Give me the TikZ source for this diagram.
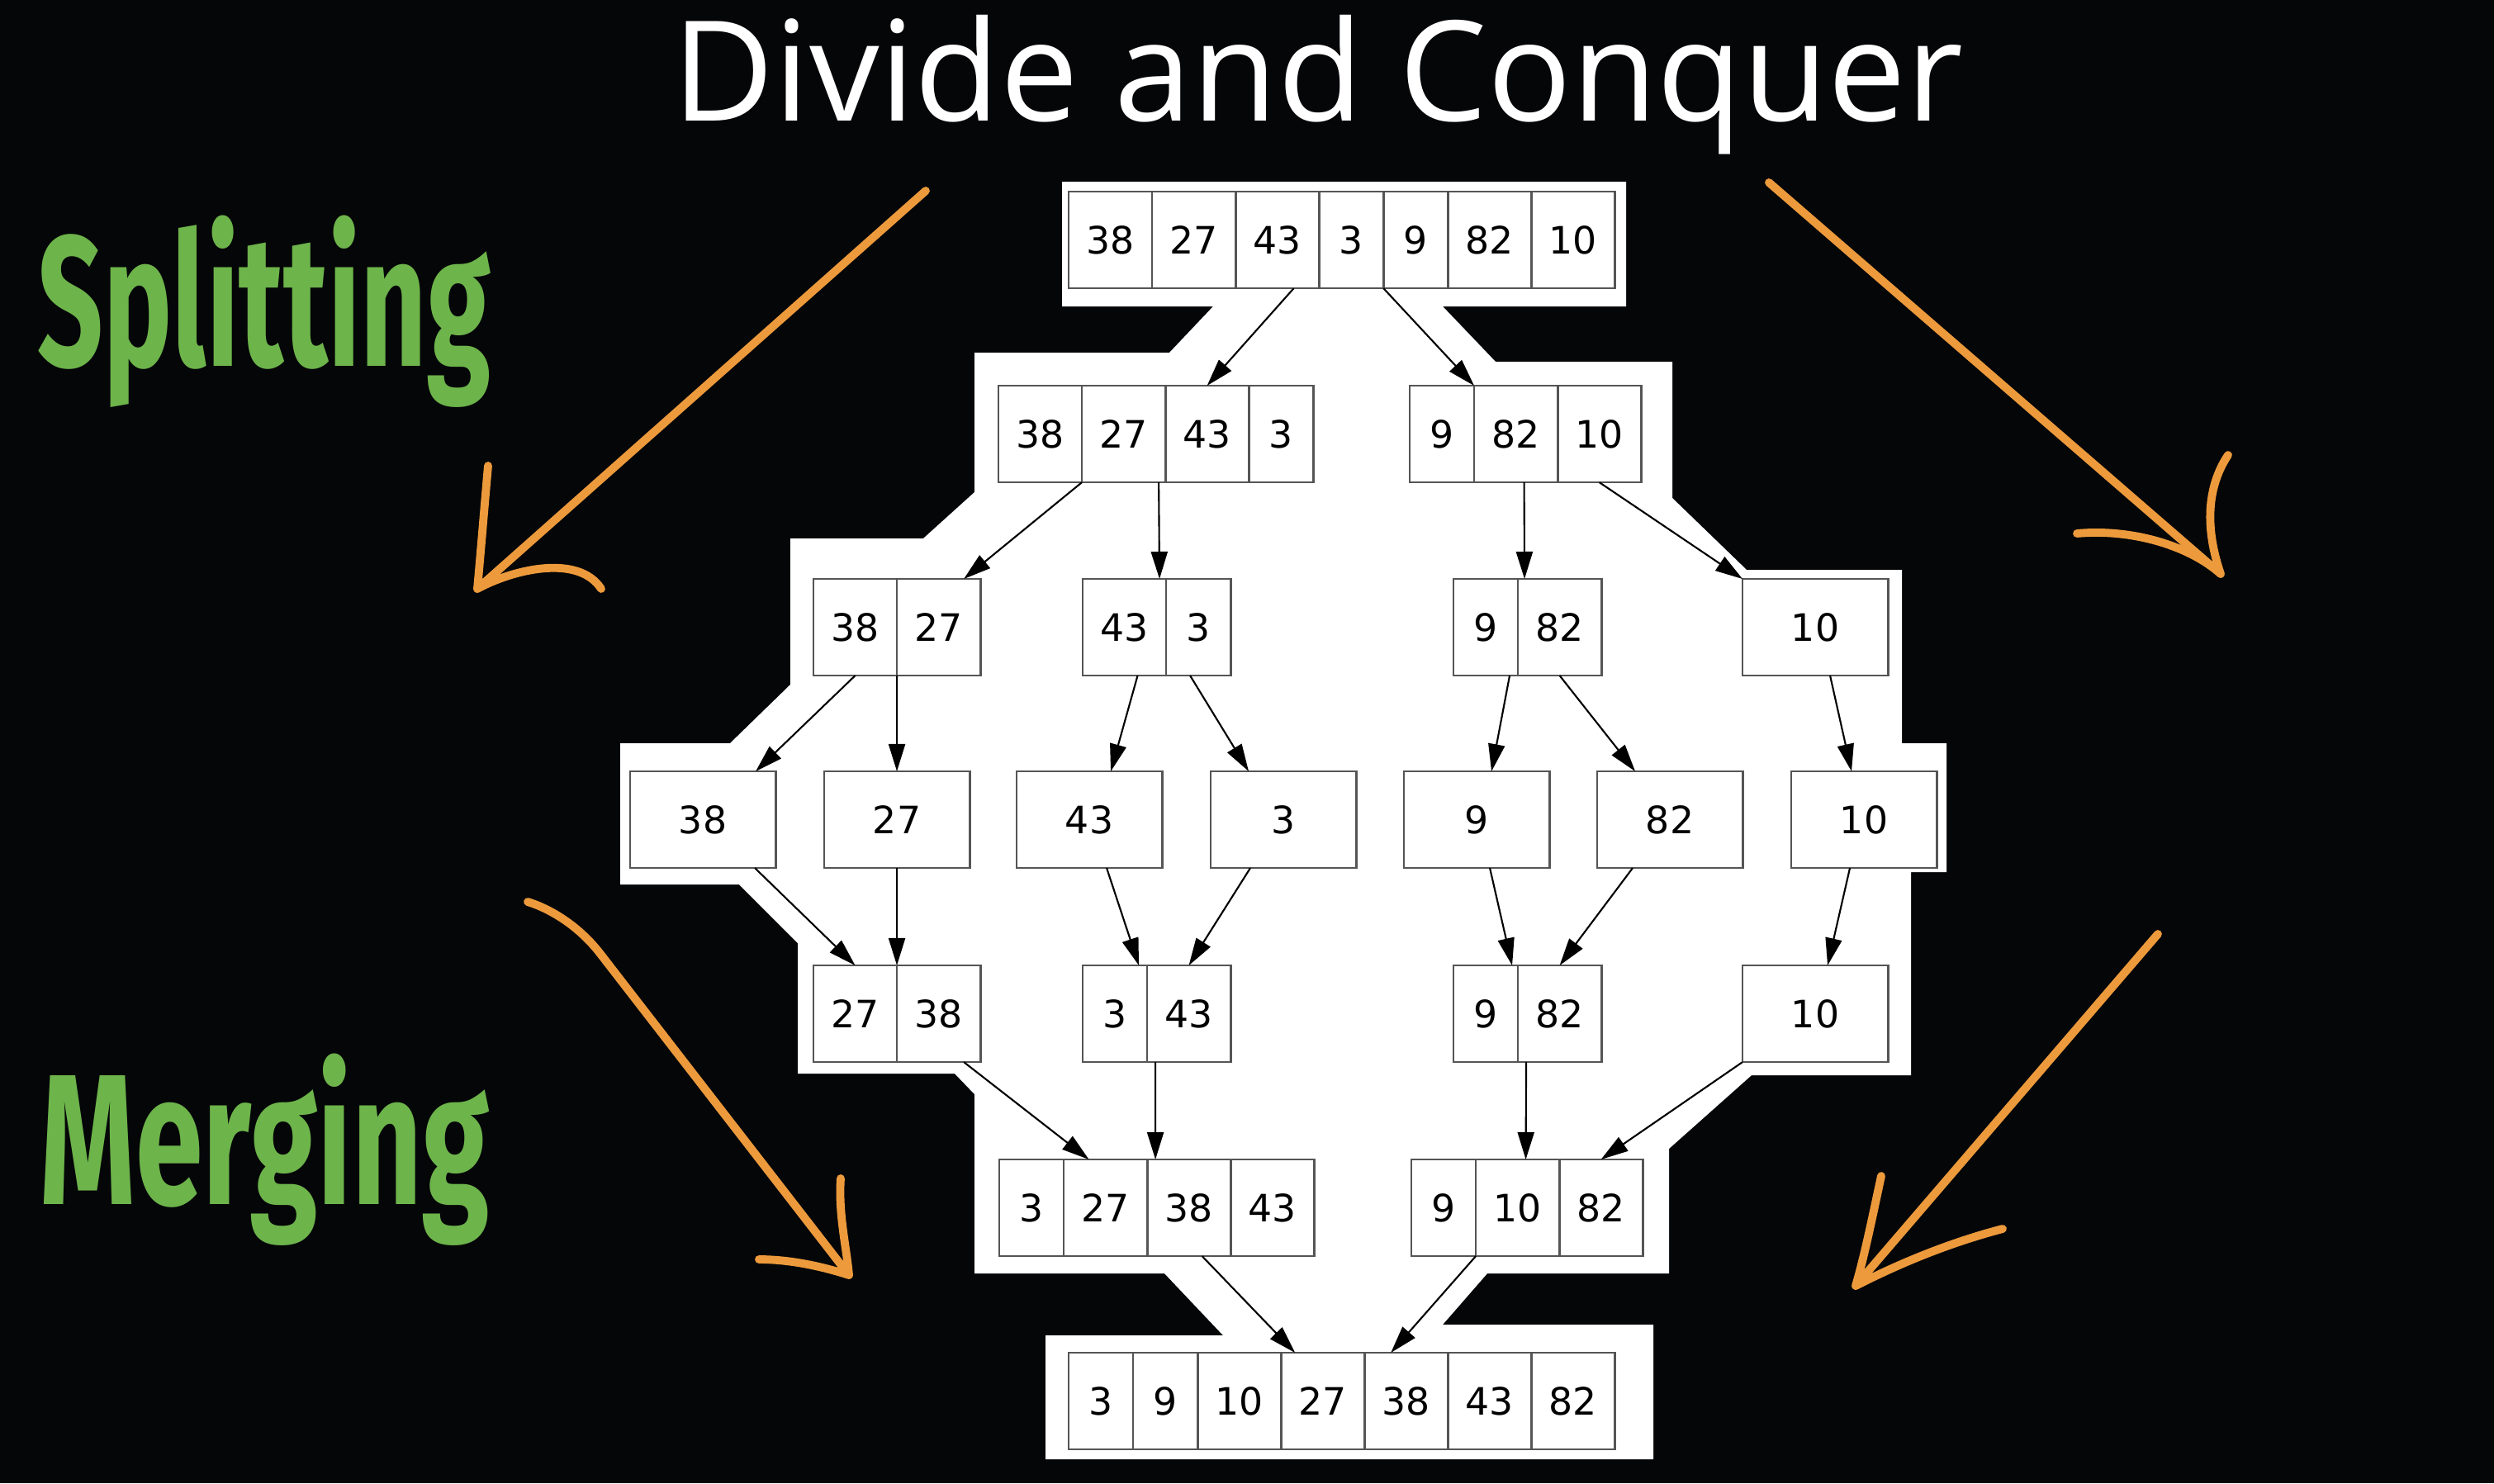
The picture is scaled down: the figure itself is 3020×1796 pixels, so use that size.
\documentclass[tikz,border=0pt]{standalone}
\usepackage{fontspec}
\setmainfont{DejaVu Sans}
\newfontfamily\titlefont{Open Sans}
\newfontfamily\stagefont[FakeStretch=0.62]{Fira Sans}
\newfontfamily\mergefont[FakeStretch=0.655]{Fira Sans}
\usetikzlibrary{arrows.meta, positioning}

\definecolor{bg}{HTML}{050608}
\definecolor{leafgreen}{HTML}{6DB44B}
\definecolor{penorange}{HTML}{EC9A3C}
\definecolor{boxgray}{HTML}{555555}

% one array of cells, placed left to right from its top left corner
\newcommand{\cellrow}[3]{%
  \foreach \v [count=\i, remember=\i as \j (initially 0)] in {#3} {
    \pgfmathsetmacro{\cw}{\v<10 ? 0.78 : 1.01}
    \ifnum\i=1
      \node[slot, minimum width=\cw cm, anchor=north west] (#1-\i) at (#2) {\v};
    \else
      \node[slot, minimum width=\cw cm, right=0pt of #1-\j] (#1-\i) {\v};
    \fi
  }%
}

\begin{document}
\begin{tikzpicture}[x=0.01cm, y=-0.01cm,
    slot/.style={draw=boxgray, fill=white, line width=0.8pt, inner sep=0pt, outer sep=0pt,
                 minimum height=1.17cm, font=\fontsize{13}{15}\selectfont},
    lonebox/.style={slot, minimum width=1.76cm},
    link/.style={-{Triangle[length=0.33cm, width=0.2cm]}, line width=0.6pt, black},
    handpen/.style={draw=penorange, line width=2.8pt, line cap=round, line join=round}]

    % Background
    \fill[bg] (0,0) rectangle (3020,1796);
    \useasboundingbox (0,0) rectangle (3020,1796);

    % White panel behind the tree
    \fill[white] (1286,220) -- (1969,220) -- (1969,371) -- (1747,371) -- (1811,438)
        -- (2025,438) -- (2025,603) -- (2115,690) -- (2303,690) -- (2303,900)
        -- (2357,900) -- (2357,1056) -- (2314,1056) -- (2314,1302) -- (2121,1302)
        -- (2021,1391) -- (2021,1542) -- (1801,1542) -- (1747,1604) -- (2002,1604)
        -- (2002,1767) -- (1266,1767) -- (1266,1617) -- (1481,1617) -- (1410,1542)
        -- (1180,1542) -- (1180,1325) -- (1156,1300) -- (966,1300) -- (966,1142)
        -- (895,1071) -- (751,1071) -- (751,900) -- (884,900) -- (957,829)
        -- (957,652) -- (1118,652) -- (1180,596) -- (1180,427) -- (1416,427)
        -- (1469,371) -- (1286,371) -- cycle;

    % Title and stage labels
    \node[anchor=base, inner sep=0pt, text=white, font=\titlefont\fontsize{48}{56}\selectfont]
        (title) at (1596,146) {Divide and Conquer};
    \node[anchor=base west, inner sep=0pt, text=leafgreen, font=\stagefont\bfseries\fontsize{64}{70}\selectfont]
        (split) at (45,443) {Splitting};
    \node[anchor=base west, inner sep=0pt, text=leafgreen, font=\mergefont\bfseries\fontsize{64}{70}\selectfont]
        (merge) at (48,1458) {Merging};

    % Splitting rows
    \cellrow{r0}{1294,232}{38,27,43,3,9,82,10}
    \cellrow{r1a}{1209,467}{38,27,43,3}
    \cellrow{r1b}{1707,467}{9,82,10}
    \cellrow{r2a}{985,701}{38,27}
    \cellrow{r2b}{1311,701}{43,3}
    \cellrow{r2c}{1760,701}{9,82}
    \node[lonebox, anchor=north west] (r2d) at (2110,701) {10};
    \foreach \v/\x [count=\i] in {38/763, 27/998, 43/1231, 3/1466, 9/1700, 82/1934, 10/2169}
        \node[lonebox, anchor=north west] (r3-\i) at (\x,934) {\v};

    % Merging rows
    \cellrow{r4a}{985,1169}{27,38}
    \cellrow{r4b}{1311,1169}{3,43}
    \cellrow{r4c}{1760,1169}{9,82}
    \node[lonebox, anchor=north west] (r4d) at (2110,1169) {10};
    \cellrow{r5a}{1210,1404}{3,27,38,43}
    \cellrow{r5b}{1709,1404}{9,10,82}
    \cellrow{r6}{1294,1638}{3,9,10,27,38,43,82}

    % Split edges
    \draw[link] ([xshift=0.2cm]r0-3.south) -- (r1a-3.north);
    \draw[link] (r0-5.south west) -- (r1b-1.north east);
    \draw[link] (r1a-2.south west) -- ([xshift=-0.2cm]r2a-2.north east);
    \draw[link] ([xshift=-0.08cm]r1a-2.south east) -- ([xshift=-0.08cm]r2b-1.north east);
    \draw[link] ([xshift=0.1cm]r1b-2.south) -- ([xshift=0.08cm]r2c-1.north east);
    \draw[link] (r1b-3.south) -- (r2d.north west);
    \draw[link] (r2a-1.south) -- ([xshift=-0.24cm]r3-1.north east);
    \draw[link] (r2a-1.south east) -- (r3-2.north);
    \draw[link] ([xshift=0.16cm]r2b-1.south) -- ([xshift=0.26cm]r3-3.north);
    \draw[link] ([xshift=-0.1cm]r2b-2.south) -- ([xshift=-0.42cm]r3-4.north);
    \draw[link] ([xshift=-0.1cm]r2c-1.south east) -- ([xshift=0.18cm]r3-5.north);
    \draw[link] (r2c-2.south) -- ([xshift=-0.42cm]r3-6.north);
    \draw[link] ([xshift=0.18cm]r2d.south) -- ([xshift=-0.15cm]r3-7.north);

    % Merge edges
    \draw[link] ([xshift=-0.25cm]r3-1.south east) -- (r4a-1.north);
    \draw[link] (r3-2.south) -- (r4a-1.north east);
    \draw[link] ([xshift=0.21cm]r3-3.south) -- ([xshift=-0.1cm]r4b-1.north east);
    \draw[link] ([xshift=-0.4cm]r3-4.south) -- (r4b-2.north);
    \draw[link] ([xshift=0.16cm]r3-5.south) -- ([xshift=-0.07cm]r4c-1.north east);
    \draw[link] ([xshift=-0.45cm]r3-6.south) -- (r4c-2.north);
    \draw[link] ([xshift=-0.17cm]r3-7.south) -- ([xshift=0.15cm]r4d.north);
    \draw[link] ([xshift=-0.2cm]r4a-2.south east) -- ([xshift=-0.2cm]r5a-2.north);
    \draw[link] ([xshift=0.1cm]r4b-2.south west) -- ([xshift=0.1cm]r5a-3.north west);
    \draw[link] ([xshift=0.1cm]r4c-2.south west) -- ([xshift=0.1cm]r5b-2.north);
    \draw[link] (r4d.south west) -- (r5b-3.north);
    \draw[link] ([xshift=0.16cm]r5a-3.south) -- ([xshift=0.17cm]r6-4.north west);
    \draw[link] (r5b-1.south east) -- ([xshift=0.32cm]r6-5.north west);

    % Hand drawn arrows
    \draw[handpen] (1121,231) -- (578,713)
        (591,564) .. controls (586,620) and (582,670) .. (578,713)
        .. controls (620,690) and (700,670) .. (728,713);
    \draw[handpen] (2142,221) -- (2689,695)
        (2698,551) .. controls (2672,590) and (2670,640) .. (2689,695)
        .. controls (2650,660) and (2580,640) .. (2515,646);
    \draw[handpen] (639,1092) .. controls (665,1100) and (700,1120) .. (727,1155) -- (1028,1544)
        (1018,1427) .. controls (1015,1470) and (1025,1510) .. (1028,1544)
        .. controls (1000,1535) and (960,1525) .. (919,1525);
    \draw[handpen] (2613,1131) -- (2247,1557)
        (2278,1424) .. controls (2268,1470) and (2258,1520) .. (2247,1557)
        .. controls (2300,1530) and (2360,1505) .. (2425,1488);

\end{tikzpicture}
\end{document}
